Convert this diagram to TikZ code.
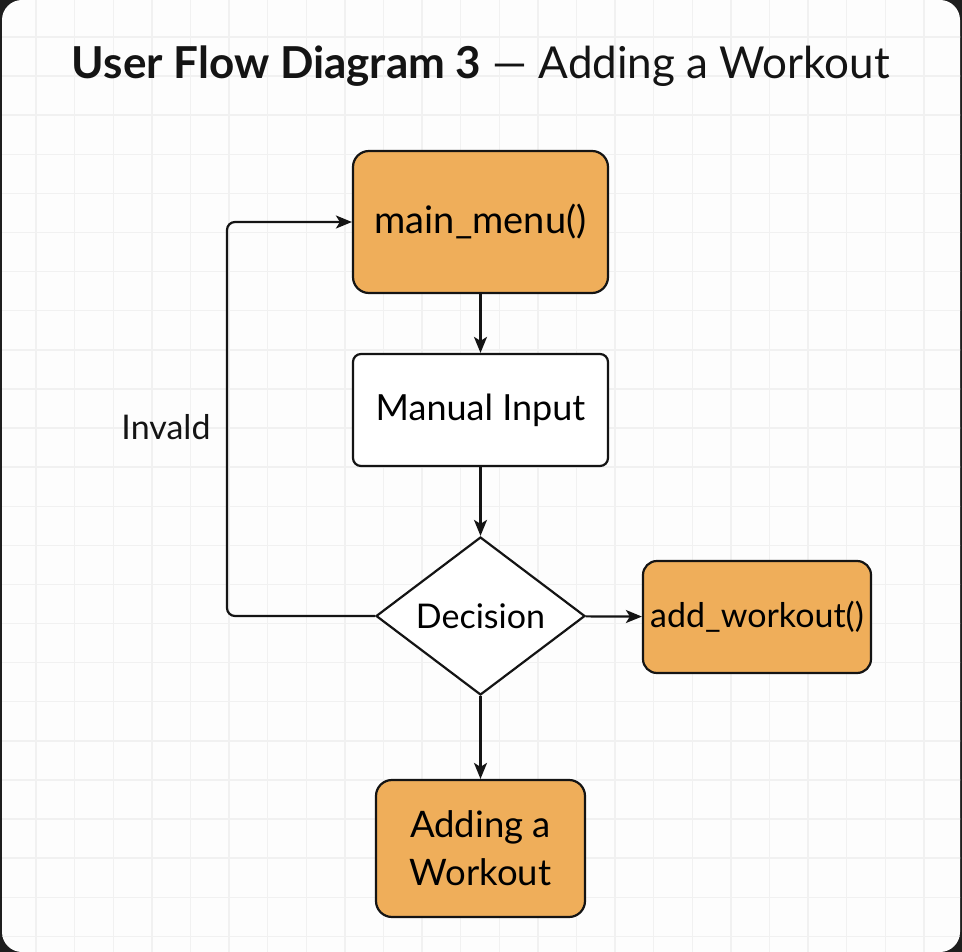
\documentclass[tikz,border=0pt]{standalone}
\usepackage{fontspec}
\setmainfont{Lato}
\usetikzlibrary{arrows.meta,shapes.geometric}
\definecolor{ink}{HTML}{141414}
\definecolor{paper}{HTML}{FDFDFD}
\definecolor{frame}{HTML}{1E1E1E}
\definecolor{gridc}{HTML}{F1F1F1}
\definecolor{tan}{HTML}{EFAE5A}
\tikzset{
  box/.style={draw=ink, line width=2.2pt, fill=tan, rounded corners=16pt, inner sep=0pt, align=center, font=\fontsize{36}{48}\selectfont},
  plain/.style={box, fill=white, rounded corners=8pt},
  dec/.style={diamond, draw=ink, line width=2.2pt, fill=white, inner sep=0pt, minimum width=209pt, minimum height=158pt, font=\fontsize{34}{40}\selectfont},
  flow/.style={draw=ink, line width=2.2pt, line join=round, -{Stealth[length=16pt,width=13pt,inset=4pt]}},
  lab/.style={text=ink, font=\fontsize{34}{40}\selectfont},
}

\begin{document}
\begin{tikzpicture}[x=1pt,y=-1pt]
  \useasboundingbox (0,0) rectangle (962,952);
  \fill[frame] (0,0) rectangle (962,952);
  \fill[paper, rounded corners=20pt] (2,0) rectangle (960,952);
  % grid
  \begin{scope}
    \clip[rounded corners=20pt] (2,0) rectangle (960,952);
    \foreach \i in {0,...,24} \draw[gridc, line width=1.4pt] ({36+38.6*\i},0) -- ({36+38.6*\i},952);
    \foreach \j in {0,...,24} \draw[gridc, line width=1.4pt] (0,{37+39.1*\j}) -- (962,{37+39.1*\j});
  \end{scope}
  \node[text=ink, font=\fontsize{44}{50}\selectfont] (title) at (481,66) {\textbf{User Flow Diagram 3} — Adding a Workout};
  % nodes
  \node[box, minimum width=255pt, minimum height=142pt, font=\fontsize{38}{40}\selectfont] (menu) at (480.5,222) {\raisebox{4pt}{main\_menu()}};
  \node[plain, minimum width=255pt, minimum height=112pt] (manual) at (480.5,410) {Manual Input};
  \node[dec] (decide) at (480.5,616) {Decision};
  \node[box, minimum width=228pt, minimum height=112pt, rounded corners=14pt, font=\fontsize{34}{40}\selectfont] (add) at (757,617) {add\_workout()};
  \node[box, minimum width=209pt, minimum height=137pt, font=\fontsize{36.5}{48}\selectfont] (done) at (480.5,848.5) {Adding a\\Workout};
  \coordinate (back) at (227,420);
  \node[lab] (invalid) at (166,427) {Invald};
  % connectors
  \draw[flow] (menu) -- (manual);
  \draw[flow] (manual) -- (decide);
  \draw[flow] (decide) -- (add);
  \draw[flow] (decide) -- (done);
  \draw[flow, rounded corners=8pt] (decide.west) -| (back) |- (menu.west);
\end{tikzpicture}
\end{document}
